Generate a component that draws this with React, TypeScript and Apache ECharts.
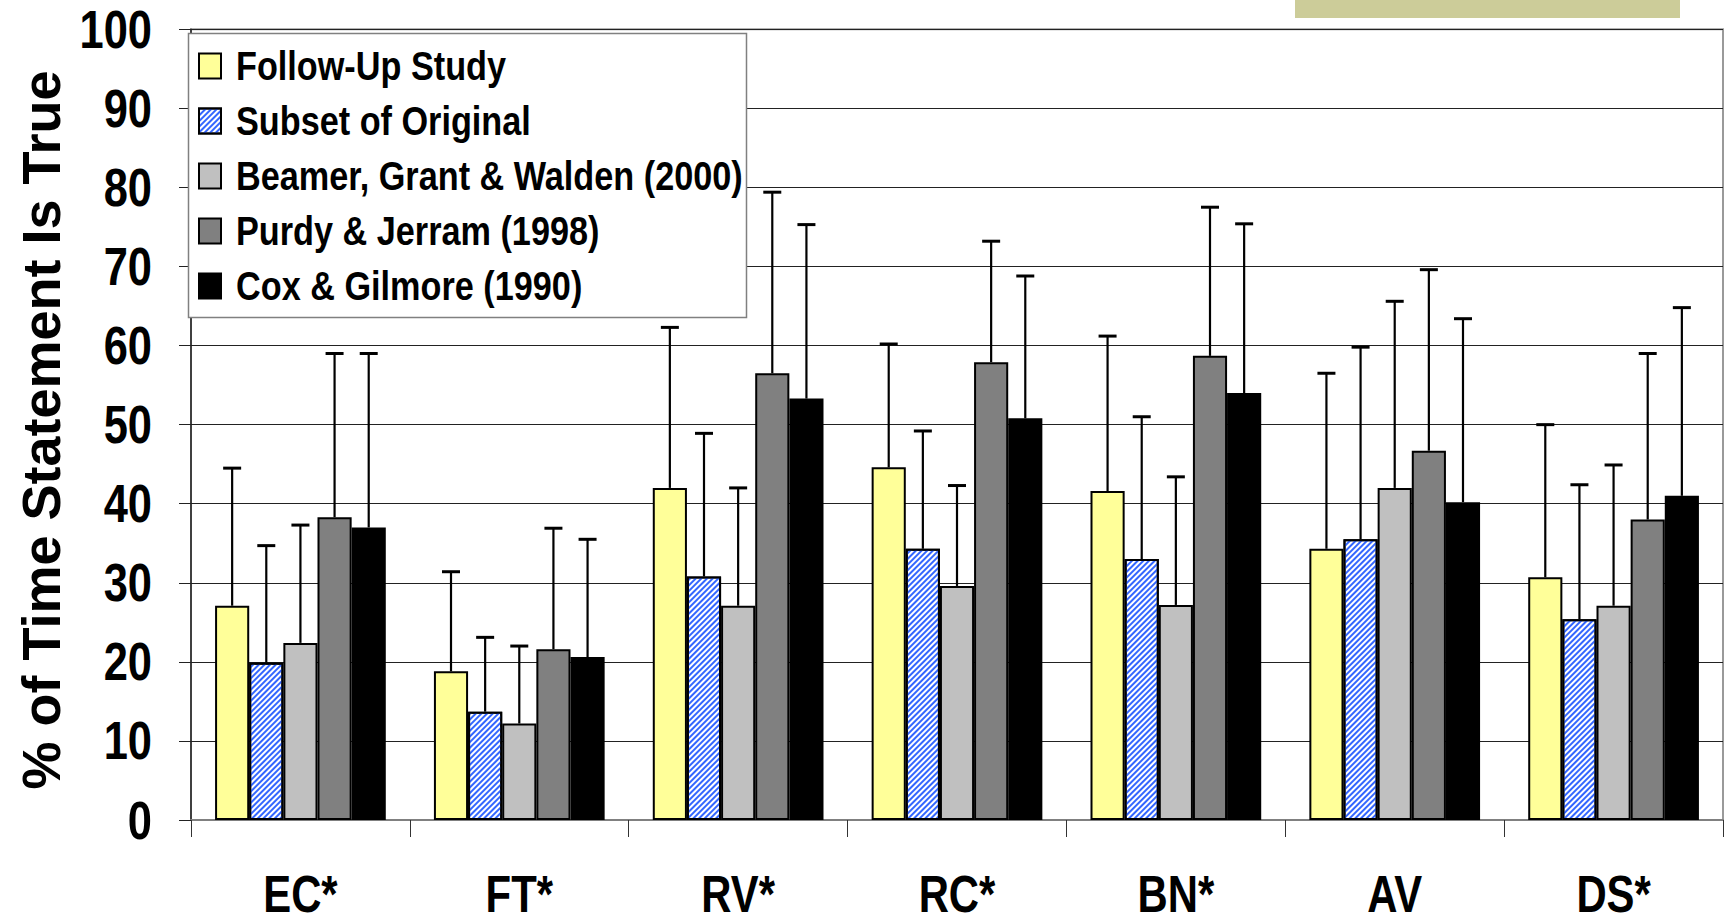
import React, { useEffect, useRef } from "react";
import * as echarts from "echarts";

const categories = ["EC*", "FT*", "RV*", "RC*", "BN*", "AV", "DS*"];
const seriesNames = [
  "Follow-Up Study",
  "Subset of Original",
  "Beamer, Grant & Walden (2000)",
  "Purdy & Jerram (1998)",
  "Cox & Gilmore (1990)",
];
const followUp = [27.1, 18.8, 42.0, 44.6, 41.6, 34.3, 30.7];
const followUpUpper = [44.5, 31.4, 62.3, 60.2, 61.2, 56.5, 50.0];
const subset = [19.9, 13.7, 30.8, 34.3, 33.0, 35.5, 25.4];
const subsetUpper = [34.7, 23.1, 48.9, 49.2, 51.0, 59.8, 42.4];
const beamer = [22.4, 12.2, 27.1, 29.6, 27.2, 42.0, 27.1];
const beamerUpper = [37.3, 22.0, 42.0, 42.3, 43.4, 65.6, 44.9];
const purdy = [38.3, 21.6, 56.5, 57.9, 58.7, 46.7, 38.0];
const purdyUpper = [59.0, 36.9, 79.4, 73.2, 77.5, 69.6, 59.0];
const cox = [37.0, 20.6, 53.3, 50.8, 54.0, 40.2, 41.0];
const coxUpper = [59.0, 35.5, 75.3, 68.8, 75.4, 63.4, 64.8];
const yTicks = { min: 0, max: 100, interval: 10 };
const yAxisTitle = "% of Time Statement Is True";

const values = [followUp, subset, beamer, purdy, cox];
const uppers = [followUpUpper, subsetUpper, beamerUpper, purdyUpper, coxUpper];

const FONT = "'Liberation Sans', Arial, sans-serif";
const GAP = 0.22;
const NARROW_FACTOR = 0.82;
const LEGEND_FACTOR = 0.835;

export default function App() {
  const ref = useRef<HTMLDivElement>(null);
  useEffect(() => {
    if (!ref.current) return;
    const chart = echarts.init(ref.current, undefined, { renderer: "svg" });
    const fills = ["#FFFF99", "#FFFFFF", "#C0C0C0", "#808080", "#000000"];
    const barSeries: any[] = values.map((vals, k) => ({
      name: seriesNames[k],
      type: "bar",
      data: vals,
      barGap: "0%",
      barCategoryGap: GAP * 100 + "%",
      itemStyle: {
        color: fills[k],
        borderColor: "#000",
        borderWidth: 2,
        ...(k === 1
          ? {
              decal: {
                symbol: "rect",
                symbolSize: 1,
                color: "#3366FF",
                dashArrayX: [1, 0],
                dashArrayY: [2, 2],
                rotation: -Math.PI / 4,
              },
            }
          : {}),
      },
      z: 2,
    }));
    const errSeries: any[] = uppers.map((up, k) => ({
      name: "err" + k,
      type: "custom",
      data: up.map((u, i) => [i, values[k][i], u]),
      encode: { x: 0, y: [1, 2] },
      z: 5,
      silent: true,
      renderItem: (params: any, api: any) => {
        const ci = api.value(0);
        const p0 = api.coord([ci, api.value(1)]);
        const p1 = api.coord([ci, api.value(2)]);
        const bw = api.size([1, 0])[0];
        const barW = (bw * (1 - GAP)) / 5;
        const x = p0[0] + (k - 2) * barW;
        return {
          type: "group",
          children: [
            {
              type: "line",
              shape: { x1: x, y1: p0[1], x2: x, y2: p1[1] },
              style: { stroke: "#000", lineWidth: 2.2 },
            },
            {
              type: "line",
              shape: { x1: x - 9, y1: p1[1], x2: x + 9, y2: p1[1] },
              style: { stroke: "#000", lineWidth: 3 },
            },
          ],
        };
      },
    }));
    chart.setOption({
      animation: false,
      backgroundColor: "#fff",
      grid: {
        left: 191,
        right: 8,
        top: 29.3,
        bottom: 104,
        show: true,
        borderColor: "#9a9a9a",
        borderWidth: 2,
      },
      legend: {
        data: seriesNames,
        orient: "vertical",
        left: 188,
        top: 33,
        icon: "rect",
        itemWidth: 22,
        itemHeight: 25,
        itemGap: 11,
        padding: [11, 6, 9, 10],
        textStyle: {
          fontFamily: FONT,
          fontWeight: "bold",
          fontSize: 41,
          lineHeight: 44,
          color: "#000",
        },
        z: 10,
      },
      xAxis: {
        type: "category",
        data: categories,
        axisLine: { lineStyle: { color: "#808080", width: 2 } },
        axisTick: { show: true, length: 17, lineStyle: { color: "#333", width: 1 } },
        axisLabel: {
          margin: 54,
          fontFamily: FONT,
          fontWeight: "bold",
          fontSize: 51,
          lineHeight: 40,
          color: "#000",
        },
      },
      yAxis: {
        type: "value",
        min: yTicks.min,
        max: yTicks.max,
        interval: yTicks.interval,
        axisLine: { show: true, lineStyle: { color: "#222", width: 1.5 } },
        axisTick: { show: true, length: 12, lineStyle: { color: "#222", width: 1 } },
        splitLine: { lineStyle: { color: "#222", width: 1 } },
        axisLabel: {
          margin: 39,
          fontFamily: FONT,
          fontWeight: "bold",
          fontSize: 53,
          color: "#000",
        },
      },
      graphic: [
        {
          type: "rect",
          shape: { x: 1295, y: 0, width: 385, height: 18 },
          style: { fill: "#CCCC99" },
        },
        {
          type: "rect",
          z: 9,
          shape: { x: 188.5, y: 33.5, width: 558, height: 284 },
          style: { fill: "#fff", stroke: "#808080", lineWidth: 1.5 },
        },
        {
          type: "text",
          x: 41,
          y: 430,
          rotation: Math.PI / 2,
          style: {
            text: yAxisTitle,
            font: "bold 54px " + FONT,
            fill: "#000",
            textAlign: "center",
            textVerticalAlign: "middle",
          },
        },
      ],
      series: [...barSeries, ...errSeries],
    });

    // Emulate the condensed (Arial Narrow-like) face of the original labels.
    const condense = () => {
      const root = ref.current;
      if (!root) return;
      root.querySelectorAll("text").forEach((node) => {
        const t = node as SVGTextElement;
        if (t.getAttribute("data-cond")) return;
        const s = t.textContent || "";
        if (!s.trim() || s === yAxisTitle) return;
        const len = t.getComputedTextLength();
        if (!len) return;
        const isLegend = seriesNames.indexOf(s) >= 0;
        const f = isLegend ? LEGEND_FACTOR : NARROW_FACTOR;
        t.setAttribute("textLength", (len * f).toFixed(1));
        t.setAttribute("lengthAdjust", "spacingAndGlyphs");
        if (isLegend) t.setAttribute("dx", "10");
        t.setAttribute("data-cond", "1");
      });
    };
    condense();
    chart.on("finished", condense);
    const timer = setTimeout(condense, 50);
    return () => {
      clearTimeout(timer);
      chart.dispose();
    };
  }, []);
  return (
    <div
      ref={ref}
      style={{ position: "absolute", left: 0, top: 0, width: 1731, height: 924 }}
    />
  );
}
